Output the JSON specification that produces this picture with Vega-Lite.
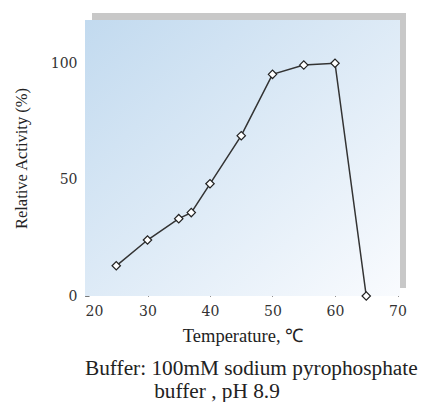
{
  "$schema": "https://vega.github.io/schema/vega-lite/v6.json",
  "autosize": {"type": "none"},
  "width": 315,
  "height": 276,
  "padding": {"left": 85, "top": 20, "right": 22, "bottom": 106},
  "background": "white",
  "config": {"view": {"stroke": null}},
  "title": {
    "text": ["Buffer: 100mM sodium pyrophosphate", "\u200b\u00a0\u00a0\u00a0\u00a0\u00a0\u00a0\u00a0\u00a0\u00a0\u00a0\u00a0\u00a0\u00a0buffer , pH 8.9"],
    "orient": "bottom",
    "anchor": "start",
    "frame": "group",
    "font": "Liberation Serif",
    "fontSize": 21.3,
    "fontWeight": "normal",
    "color": "#222",
    "lineHeight": 23,
    "offset": 13
  },
  "data": {
    "values": [
      {"temp": 25, "activity": 13.0},
      {"temp": 30, "activity": 24.1},
      {"temp": 35, "activity": 33.3},
      {"temp": 37, "activity": 35.9},
      {"temp": 40, "activity": 48.3},
      {"temp": 45, "activity": 69.0},
      {"temp": 50, "activity": 95.4},
      {"temp": 55, "activity": 99.4},
      {"temp": 60, "activity": 100.2},
      {"temp": 65, "activity": 0}
    ]
  },
  "layer": [
    {
      "data": {"values": [{}]},
      "mark": {"type": "rect", "color": "#c8c8c8", "clip": false},
      "encoding": {
        "x": {"datum": 21.12, "type": "quantitative"},
        "x2": {"datum": 71.36},
        "y": {"datum": 3.44, "type": "quantitative"},
        "y2": {"datum": 121.8}
      }
    },
    {
      "data": {"values": [{}]},
      "mark": {
        "type": "rect",
        "clip": false,
        "color": {
          "gradient": "linear",
          "x1": 0, "y1": 0, "x2": 1, "y2": 1,
          "stops": [
            {"offset": 0, "color": "#c2daef"},
            {"offset": 1, "color": "#f9fbfe"}
          ]
        }
      },
      "encoding": {
        "x": {"datum": 20, "type": "quantitative"},
        "x2": {"datum": 70.4},
        "y": {"datum": 0, "type": "quantitative"},
        "y2": {"datum": 118.8}
      }
    },
    {
      "mark": {"type": "line", "color": "#333333", "strokeWidth": 1.5, "clip": false},
      "encoding": {
        "x": {
          "field": "temp", "type": "quantitative",
          "scale": {"domain": [20, 70.4], "nice": false, "zero": false},
          "axis": {
            "values": [20, 30, 40, 50, 60, 70],
            "domain": false,
            "grid": false,
            "tickSize": -4,
            "tickColor": "#222",
            "labelFont": "DejaVu Serif",
            "labelFontSize": 14,
            "labelColor": "#333",
            "labelPadding": 12,
            "title": "Temperature, \u2103",
            "titleFont": "Liberation Serif",
            "titleFontSize": 18.5,
            "titleFontWeight": "normal",
            "titleColor": "#222",
            "titlePadding": 8
          }
        },
        "y": {
          "field": "activity", "type": "quantitative",
          "scale": {"domain": [0, 118.8], "nice": false},
          "axis": {
            "values": [0, 50, 100],
            "domain": false,
            "grid": false,
            "tickSize": -4,
            "tickColor": "#777",
            "labelFont": "DejaVu Serif",
            "labelFontSize": 14,
            "labelColor": "#333",
            "labelPadding": 12,
            "title": "Relative Activity (%)",
            "titleFont": "Liberation Serif",
            "titleFontSize": 16.5,
            "titleFontWeight": "normal",
            "titleColor": "#222",
            "titlePadding": 21
          }
        }
      }
    },
    {
      "mark": {"type": "point", "shape": "diamond", "filled": true, "fill": "white", "stroke": "#222", "strokeWidth": 1.2, "size": 70, "opacity": 1, "clip": false},
      "encoding": {
        "x": {"field": "temp", "type": "quantitative"},
        "y": {"field": "activity", "type": "quantitative"}
      }
    }
  ]
}
